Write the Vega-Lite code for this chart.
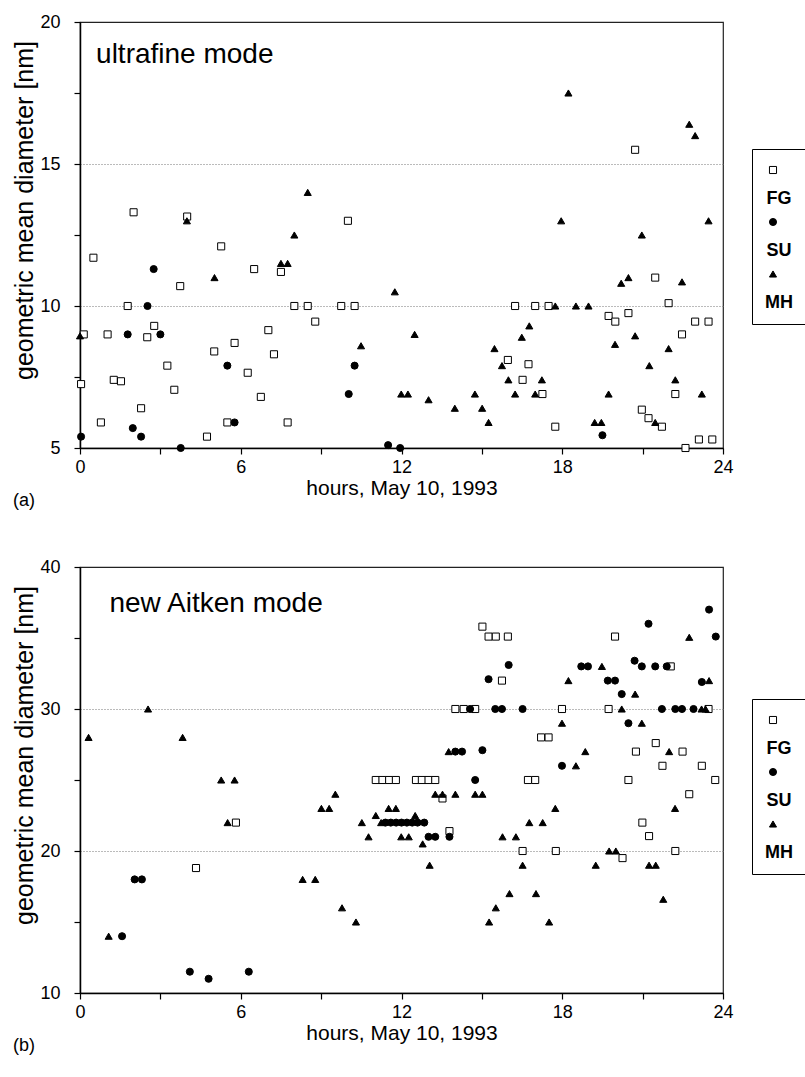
{
  "$schema": "https://vega.github.io/schema/vega-lite/v6.json",
  "background": "white",
  "padding": {"left": 12, "top": 12, "right": 0, "bottom": 0},
  "config": {
    "font": "Liberation Sans",
    "view": {"stroke": "#222", "strokeWidth": 1.2},
    "axis": {
      "domainColor": "black", "domainWidth": 1.5, "tickColor": "black", "tickWidth": 1.2, "tickSize": 6,
      "labelFontSize": 18, "labelColor": "black", "labelFlush": false, "labelOverlap": false,
      "titleFontWeight": "normal", "titleColor": "black",
      "gridColor": "#777", "gridDash": [1, 2], "gridWidth": 1
    },
    "axisX": {"labelPadding": 4, "titleFontSize": 21, "titlePadding": 1},
    "axisY": {"labelPadding": 14, "titleFontSize": 25, "titlePadding": 2, "titleY": 188},
    "title": {"fontSize": 18, "fontWeight": "normal", "color": "black"}
  },
  "datasets": {
    "ultra": [
      {"t": 0.5, "v": 11.7, "s": "FG"}, {"t": 2.0, "v": 13.3, "s": "FG"}, {"t": 4.0, "v": 13.15, "s": "FG"},
      {"t": 5.27, "v": 12.1, "s": "FG"}, {"t": 3.74, "v": 10.7, "s": "FG"}, {"t": 6.5, "v": 11.3, "s": "FG"},
      {"t": 7.5, "v": 11.2, "s": "FG"}, {"t": 1.78, "v": 10.0, "s": "FG"}, {"t": 7.03, "v": 9.15, "s": "FG"},
      {"t": 2.77, "v": 9.3, "s": "FG"}, {"t": 0.14, "v": 9.0, "s": "FG"}, {"t": 1.03, "v": 9.0, "s": "FG"},
      {"t": 2.51, "v": 8.9, "s": "FG"}, {"t": 5.77, "v": 8.7, "s": "FG"}, {"t": 5.01, "v": 8.4, "s": "FG"},
      {"t": 7.24, "v": 8.3, "s": "FG"}, {"t": 3.26, "v": 7.9, "s": "FG"}, {"t": 6.26, "v": 7.65, "s": "FG"},
      {"t": 1.26, "v": 7.4, "s": "FG"}, {"t": 1.53, "v": 7.35, "s": "FG"}, {"t": 0.04, "v": 7.25, "s": "FG"},
      {"t": 3.52, "v": 7.05, "s": "FG"}, {"t": 6.75, "v": 6.8, "s": "FG"}, {"t": 2.28, "v": 6.4, "s": "FG"},
      {"t": 0.78, "v": 5.9, "s": "FG"}, {"t": 5.5, "v": 5.9, "s": "FG"}, {"t": 7.75, "v": 5.9, "s": "FG"},
      {"t": 4.74, "v": 5.4, "s": "FG"}, {"t": 10.0, "v": 13.0, "s": "FG"}, {"t": 8.0, "v": 10.0, "s": "FG"},
      {"t": 8.5, "v": 10.0, "s": "FG"}, {"t": 9.75, "v": 10.0, "s": "FG"}, {"t": 10.25, "v": 10.0, "s": "FG"},
      {"t": 8.78, "v": 9.45, "s": "FG"}, {"t": 15.97, "v": 8.1, "s": "FG"}, {"t": 20.72, "v": 15.5, "s": "FG"},
      {"t": 21.47, "v": 11.0, "s": "FG"}, {"t": 21.97, "v": 10.1, "s": "FG"}, {"t": 16.24, "v": 10.0, "s": "FG"},
      {"t": 16.99, "v": 10.0, "s": "FG"}, {"t": 17.49, "v": 10.0, "s": "FG"}, {"t": 19.73, "v": 9.65, "s": "FG"},
      {"t": 19.98, "v": 9.45, "s": "FG"}, {"t": 20.47, "v": 9.75, "s": "FG"}, {"t": 22.96, "v": 9.45, "s": "FG"},
      {"t": 23.46, "v": 9.45, "s": "FG"}, {"t": 22.47, "v": 9.0, "s": "FG"}, {"t": 16.74, "v": 7.95, "s": "FG"},
      {"t": 16.52, "v": 7.4, "s": "FG"}, {"t": 17.26, "v": 6.9, "s": "FG"}, {"t": 22.22, "v": 6.9, "s": "FG"},
      {"t": 20.97, "v": 6.35, "s": "FG"}, {"t": 21.22, "v": 6.05, "s": "FG"}, {"t": 21.72, "v": 5.75, "s": "FG"},
      {"t": 17.74, "v": 5.75, "s": "FG"}, {"t": 22.6, "v": 5.0, "s": "FG"}, {"t": 23.1, "v": 5.3, "s": "FG"},
      {"t": 23.6, "v": 5.3, "s": "FG"},
      {"t": 2.75, "v": 11.3, "s": "SU"}, {"t": 2.52, "v": 10.0, "s": "SU"}, {"t": 1.78, "v": 9.0, "s": "SU"},
      {"t": 3.0, "v": 9.0, "s": "SU"}, {"t": 5.5, "v": 7.9, "s": "SU"}, {"t": 5.77, "v": 5.9, "s": "SU"},
      {"t": 1.97, "v": 5.7, "s": "SU"}, {"t": 2.28, "v": 5.4, "s": "SU"}, {"t": 0.04, "v": 5.4, "s": "SU"},
      {"t": 3.76, "v": 5.0, "s": "SU"}, {"t": 11.5, "v": 5.1, "s": "SU"}, {"t": 11.95, "v": 5.0, "s": "SU"},
      {"t": 10.25, "v": 7.9, "s": "SU"}, {"t": 10.03, "v": 6.9, "s": "SU"}, {"t": 19.5, "v": 5.45, "s": "SU"},
      {"t": 0.0, "v": 8.95, "s": "MH"}, {"t": 3.99, "v": 13.0, "s": "MH"}, {"t": 5.02, "v": 11.0, "s": "MH"},
      {"t": 7.5, "v": 11.5, "s": "MH"}, {"t": 7.75, "v": 11.5, "s": "MH"}, {"t": 8.5, "v": 14.0, "s": "MH"},
      {"t": 8.0, "v": 12.5, "s": "MH"}, {"t": 11.75, "v": 10.5, "s": "MH"}, {"t": 12.49, "v": 9.0, "s": "MH"},
      {"t": 10.49, "v": 8.6, "s": "MH"}, {"t": 15.47, "v": 8.5, "s": "MH"}, {"t": 15.75, "v": 7.9, "s": "MH"},
      {"t": 15.99, "v": 7.4, "s": "MH"}, {"t": 11.99, "v": 6.9, "s": "MH"}, {"t": 12.24, "v": 6.9, "s": "MH"},
      {"t": 13.01, "v": 6.7, "s": "MH"}, {"t": 14.74, "v": 6.9, "s": "MH"}, {"t": 13.99, "v": 6.4, "s": "MH"},
      {"t": 15.01, "v": 6.4, "s": "MH"}, {"t": 15.25, "v": 5.9, "s": "MH"}, {"t": 18.23, "v": 17.5, "s": "MH"},
      {"t": 22.74, "v": 16.4, "s": "MH"}, {"t": 22.96, "v": 16.0, "s": "MH"}, {"t": 17.96, "v": 13.0, "s": "MH"},
      {"t": 23.46, "v": 13.0, "s": "MH"}, {"t": 20.97, "v": 12.5, "s": "MH"}, {"t": 20.47, "v": 11.0, "s": "MH"},
      {"t": 20.2, "v": 10.8, "s": "MH"}, {"t": 22.47, "v": 10.85, "s": "MH"}, {"t": 17.74, "v": 10.0, "s": "MH"},
      {"t": 18.51, "v": 10.0, "s": "MH"}, {"t": 18.98, "v": 10.0, "s": "MH"}, {"t": 16.77, "v": 9.3, "s": "MH"},
      {"t": 16.49, "v": 8.9, "s": "MH"}, {"t": 19.97, "v": 8.65, "s": "MH"}, {"t": 20.72, "v": 8.95, "s": "MH"},
      {"t": 21.97, "v": 8.5, "s": "MH"}, {"t": 21.25, "v": 7.9, "s": "MH"}, {"t": 17.24, "v": 7.4, "s": "MH"},
      {"t": 22.22, "v": 7.4, "s": "MH"}, {"t": 16.24, "v": 6.9, "s": "MH"}, {"t": 16.99, "v": 6.9, "s": "MH"},
      {"t": 19.73, "v": 6.9, "s": "MH"}, {"t": 23.21, "v": 6.9, "s": "MH"}, {"t": 19.21, "v": 5.9, "s": "MH"},
      {"t": 19.46, "v": 5.9, "s": "MH"}, {"t": 21.47, "v": 5.9, "s": "MH"}
    ],
    "aitken": [
      {"t": 5.82, "v": 22.0, "s": "FG"}, {"t": 4.33, "v": 18.8, "s": "FG"}, {"t": 15.02, "v": 35.8, "s": "FG"},
      {"t": 15.25, "v": 35.1, "s": "FG"}, {"t": 15.52, "v": 35.1, "s": "FG"}, {"t": 15.97, "v": 35.1, "s": "FG"},
      {"t": 15.75, "v": 32.0, "s": "FG"}, {"t": 14.01, "v": 30.0, "s": "FG"}, {"t": 14.32, "v": 30.0, "s": "FG"},
      {"t": 14.75, "v": 30.0, "s": "FG"}, {"t": 11.04, "v": 25.0, "s": "FG"}, {"t": 11.29, "v": 25.0, "s": "FG"},
      {"t": 11.54, "v": 25.0, "s": "FG"}, {"t": 11.79, "v": 25.0, "s": "FG"}, {"t": 12.54, "v": 25.0, "s": "FG"},
      {"t": 12.76, "v": 25.0, "s": "FG"}, {"t": 13.01, "v": 25.0, "s": "FG"}, {"t": 13.26, "v": 25.0, "s": "FG"},
      {"t": 13.53, "v": 23.7, "s": "FG"}, {"t": 13.79, "v": 21.4, "s": "FG"}, {"t": 19.97, "v": 35.1, "s": "FG"},
      {"t": 17.99, "v": 30.0, "s": "FG"}, {"t": 19.73, "v": 30.0, "s": "FG"}, {"t": 23.46, "v": 30.0, "s": "FG"},
      {"t": 17.21, "v": 28.0, "s": "FG"}, {"t": 17.49, "v": 28.0, "s": "FG"}, {"t": 21.49, "v": 27.6, "s": "FG"},
      {"t": 20.75, "v": 27.0, "s": "FG"}, {"t": 22.49, "v": 27.0, "s": "FG"}, {"t": 21.74, "v": 26.0, "s": "FG"},
      {"t": 23.21, "v": 26.0, "s": "FG"}, {"t": 16.72, "v": 25.0, "s": "FG"}, {"t": 16.99, "v": 25.0, "s": "FG"},
      {"t": 20.47, "v": 25.0, "s": "FG"}, {"t": 23.71, "v": 25.0, "s": "FG"}, {"t": 22.74, "v": 24.0, "s": "FG"},
      {"t": 20.99, "v": 22.0, "s": "FG"}, {"t": 21.24, "v": 21.05, "s": "FG"}, {"t": 16.52, "v": 20.0, "s": "FG"},
      {"t": 17.76, "v": 20.0, "s": "FG"}, {"t": 20.25, "v": 19.5, "s": "FG"}, {"t": 22.22, "v": 20.0, "s": "FG"},
      {"t": 22.05, "v": 33.0, "s": "FG"},
      {"t": 1.57, "v": 14.0, "s": "SU"}, {"t": 2.04, "v": 18.0, "s": "SU"}, {"t": 2.31, "v": 18.0, "s": "SU"},
      {"t": 4.1, "v": 11.5, "s": "SU"}, {"t": 4.8, "v": 11.0, "s": "SU"}, {"t": 6.3, "v": 11.5, "s": "SU"},
      {"t": 16.0, "v": 33.1, "s": "SU"}, {"t": 15.25, "v": 32.1, "s": "SU"}, {"t": 15.5, "v": 30.0, "s": "SU"},
      {"t": 15.75, "v": 30.0, "s": "SU"}, {"t": 14.56, "v": 30.0, "s": "SU"}, {"t": 14.01, "v": 27.0, "s": "SU"},
      {"t": 14.26, "v": 27.0, "s": "SU"}, {"t": 15.02, "v": 27.1, "s": "SU"}, {"t": 14.75, "v": 25.0, "s": "SU"},
      {"t": 13.01, "v": 21.0, "s": "SU"}, {"t": 13.26, "v": 21.0, "s": "SU"}, {"t": 13.79, "v": 21.0, "s": "SU"},
      {"t": 11.4, "v": 22.0, "s": "SU"}, {"t": 11.6, "v": 22.0, "s": "SU"}, {"t": 11.8, "v": 22.0, "s": "SU"},
      {"t": 12.0, "v": 22.0, "s": "SU"}, {"t": 12.2, "v": 22.0, "s": "SU"}, {"t": 12.4, "v": 22.0, "s": "SU"},
      {"t": 12.6, "v": 22.0, "s": "SU"}, {"t": 12.85, "v": 22.0, "s": "SU"}, {"t": 23.48, "v": 37.0, "s": "SU"},
      {"t": 21.22, "v": 36.0, "s": "SU"}, {"t": 23.73, "v": 35.1, "s": "SU"}, {"t": 18.71, "v": 33.0, "s": "SU"},
      {"t": 18.96, "v": 33.0, "s": "SU"}, {"t": 20.7, "v": 33.4, "s": "SU"}, {"t": 20.97, "v": 33.0, "s": "SU"},
      {"t": 21.47, "v": 33.0, "s": "SU"}, {"t": 21.9, "v": 33.0, "s": "SU"}, {"t": 19.7, "v": 32.0, "s": "SU"},
      {"t": 19.97, "v": 32.0, "s": "SU"}, {"t": 23.21, "v": 31.9, "s": "SU"}, {"t": 20.22, "v": 31.05, "s": "SU"},
      {"t": 16.52, "v": 30.0, "s": "SU"}, {"t": 21.72, "v": 30.0, "s": "SU"}, {"t": 22.22, "v": 30.0, "s": "SU"},
      {"t": 22.47, "v": 30.0, "s": "SU"}, {"t": 22.9, "v": 30.0, "s": "SU"}, {"t": 20.47, "v": 29.0, "s": "SU"},
      {"t": 17.99, "v": 26.0, "s": "SU"},
      {"t": 0.32, "v": 28.0, "s": "MH"}, {"t": 2.54, "v": 30.0, "s": "MH"}, {"t": 3.83, "v": 28.0, "s": "MH"},
      {"t": 5.27, "v": 25.0, "s": "MH"}, {"t": 5.77, "v": 25.0, "s": "MH"}, {"t": 5.51, "v": 22.0, "s": "MH"},
      {"t": 1.07, "v": 14.0, "s": "MH"}, {"t": 9.53, "v": 24.0, "s": "MH"}, {"t": 9.01, "v": 23.0, "s": "MH"},
      {"t": 9.3, "v": 23.0, "s": "MH"}, {"t": 11.04, "v": 22.5, "s": "MH"}, {"t": 10.52, "v": 22.0, "s": "MH"},
      {"t": 11.24, "v": 22.0, "s": "MH"}, {"t": 11.52, "v": 23.0, "s": "MH"}, {"t": 11.79, "v": 23.0, "s": "MH"},
      {"t": 12.51, "v": 22.5, "s": "MH"}, {"t": 10.77, "v": 21.0, "s": "MH"}, {"t": 11.99, "v": 21.0, "s": "MH"},
      {"t": 12.27, "v": 21.0, "s": "MH"}, {"t": 12.79, "v": 20.5, "s": "MH"}, {"t": 13.26, "v": 24.0, "s": "MH"},
      {"t": 13.53, "v": 24.0, "s": "MH"}, {"t": 14.01, "v": 24.0, "s": "MH"}, {"t": 14.75, "v": 24.0, "s": "MH"},
      {"t": 15.02, "v": 24.0, "s": "MH"}, {"t": 15.77, "v": 21.0, "s": "MH"}, {"t": 13.05, "v": 19.0, "s": "MH"},
      {"t": 8.31, "v": 18.0, "s": "MH"}, {"t": 8.78, "v": 18.0, "s": "MH"}, {"t": 16.03, "v": 17.0, "s": "MH"},
      {"t": 15.52, "v": 16.0, "s": "MH"}, {"t": 9.78, "v": 16.0, "s": "MH"}, {"t": 10.3, "v": 15.0, "s": "MH"},
      {"t": 15.27, "v": 15.0, "s": "MH"}, {"t": 13.76, "v": 27.0, "s": "MH"}, {"t": 22.74, "v": 35.05, "s": "MH"},
      {"t": 19.48, "v": 33.0, "s": "MH"}, {"t": 18.23, "v": 32.0, "s": "MH"}, {"t": 23.48, "v": 32.0, "s": "MH"},
      {"t": 20.72, "v": 31.05, "s": "MH"}, {"t": 20.22, "v": 30.0, "s": "MH"}, {"t": 23.2, "v": 30.0, "s": "MH"},
      {"t": 23.35, "v": 30.0, "s": "MH"}, {"t": 17.99, "v": 29.0, "s": "MH"}, {"t": 20.97, "v": 29.0, "s": "MH"},
      {"t": 18.86, "v": 27.0, "s": "MH"}, {"t": 21.99, "v": 27.0, "s": "MH"}, {"t": 18.51, "v": 26.0, "s": "MH"},
      {"t": 17.74, "v": 23.0, "s": "MH"}, {"t": 22.21, "v": 23.0, "s": "MH"}, {"t": 16.77, "v": 22.0, "s": "MH"},
      {"t": 17.27, "v": 22.0, "s": "MH"}, {"t": 16.27, "v": 21.0, "s": "MH"}, {"t": 19.75, "v": 20.0, "s": "MH"},
      {"t": 20.0, "v": 20.0, "s": "MH"}, {"t": 16.52, "v": 19.0, "s": "MH"}, {"t": 19.25, "v": 19.0, "s": "MH"},
      {"t": 21.24, "v": 19.0, "s": "MH"}, {"t": 21.49, "v": 19.0, "s": "MH"}, {"t": 17.02, "v": 17.0, "s": "MH"},
      {"t": 21.77, "v": 16.6, "s": "MH"}, {"t": 17.51, "v": 15.0, "s": "MH"}
    ]
  },
  "resolve": {"scale": {"shape": "independent", "fill": "independent", "stroke": "independent"}, "legend": {"shape": "independent", "fill": "independent", "stroke": "independent"}},
  "spacing": 46,
  "vconcat": [
    {
      "width": 643, "height": 426,
      "title": {"text": "(a)", "orient": "bottom", "anchor": "start", "frame": "bounds", "offset": -6},
      "layer": [
        {
          "data": {"name": "ultra"},
          "mark": {"type": "point", "filled": true, "size": 50, "strokeWidth": 1, "opacity": 1},
          "encoding": {
            "x": {"field": "t", "type": "quantitative", "scale": {"domain": [0, 24], "nice": false},
              "axis": {"title": "hours, May 10, 1993", "values": [0, 3, 6, 9, 12, 15, 18, 21, 24], "labelExpr": "datum.value % 6 === 0 ? datum.label : ''", "grid": false}},
            "y": {"field": "v", "type": "quantitative", "scale": {"domain": [5, 20], "nice": false},
              "axis": {"title": "geometric mean diameter [nm]", "values": [5, 7.5, 10, 12.5, 15, 17.5, 20], "labelExpr": "datum.value % 5 === 0 ? datum.label : ''", "grid": true,
                "gridOpacity": {"condition": {"test": "datum.value === 10 || datum.value === 15", "value": 1}, "value": 0}}},
            "shape": {"field": "s", "type": "nominal", "scale": {"domain": ["FG", "SU", "MH"], "range": ["square", "circle", "triangle-up"]},
              "legend": {"title": null, "orient": "none", "legendX": 672, "legendY": 127, "strokeColor": "black", "fillColor": "white", "padding": 12,
                "labelFontSize": 18, "labelFontWeight": "bold", "labelColor": "black", "labelAlign": "center", "labelBaseline": "top", "labelOffset": -3,
                "labelExpr": "['', datum.label]", "symbolSize": 50, "symbolStrokeWidth": 1, "rowPadding": 5}},
            "fill": {"field": "s", "type": "nominal", "scale": {"domain": ["FG", "SU", "MH"], "range": ["white", "black", "black"]},
              "legend": {"title": null, "orient": "none", "legendX": 672, "legendY": 127, "strokeColor": "black", "fillColor": "white", "padding": 12,
                "labelFontSize": 18, "labelFontWeight": "bold", "labelColor": "black", "labelAlign": "center", "labelBaseline": "top", "labelOffset": -3,
                "labelExpr": "['', datum.label]", "symbolSize": 50, "symbolStrokeWidth": 1, "rowPadding": 5}},
            "stroke": {"field": "s", "type": "nominal", "scale": {"domain": ["FG", "SU", "MH"], "range": ["black", "black", "black"]},
              "legend": {"title": null, "orient": "none", "legendX": 672, "legendY": 127, "strokeColor": "black", "fillColor": "white", "padding": 12,
                "labelFontSize": 18, "labelFontWeight": "bold", "labelColor": "black", "labelAlign": "center", "labelBaseline": "top", "labelOffset": -3,
                "labelExpr": "['', datum.label]", "symbolSize": 50, "symbolStrokeWidth": 1, "rowPadding": 5}}
          }
        },
        {
          "data": {"values": [{"label": "ultrafine mode"}]},
          "mark": {"type": "text", "align": "left", "baseline": "alphabetic", "fontSize": 28, "color": "black"},
          "encoding": {"x": {"datum": 0.6, "type": "quantitative"}, "y": {"datum": 18.55, "type": "quantitative"}, "text": {"field": "label", "type": "nominal"}}
        }
      ]
    },
    {
      "width": 643, "height": 426,
      "title": {"text": "(b)", "orient": "bottom", "anchor": "start", "frame": "bounds", "offset": -6},
      "layer": [
        {
          "data": {"name": "aitken"},
          "mark": {"type": "point", "filled": true, "size": 50, "strokeWidth": 1, "opacity": 1},
          "encoding": {
            "x": {"field": "t", "type": "quantitative", "scale": {"domain": [0, 24], "nice": false},
              "axis": {"title": "hours, May 10, 1993", "values": [0, 3, 6, 9, 12, 15, 18, 21, 24], "labelExpr": "datum.value % 6 === 0 ? datum.label : ''", "grid": false}},
            "y": {"field": "v", "type": "quantitative", "scale": {"domain": [10, 40], "nice": false},
              "axis": {"title": "geometric mean diameter [nm]", "values": [10, 15, 20, 25, 30, 35, 40], "labelExpr": "datum.value % 10 === 0 ? datum.label : ''", "grid": true,
                "gridOpacity": {"condition": {"test": "datum.value === 20 || datum.value === 30", "value": 1}, "value": 0}}},
            "shape": {"field": "s", "type": "nominal", "scale": {"domain": ["FG", "SU", "MH"], "range": ["square", "circle", "triangle-up"]},
              "legend": {"title": null, "orient": "none", "legendX": 672, "legendY": 132, "strokeColor": "black", "fillColor": "white", "padding": 12,
                "labelFontSize": 18, "labelFontWeight": "bold", "labelColor": "black", "labelAlign": "center", "labelBaseline": "top", "labelOffset": -3,
                "labelExpr": "['', datum.label]", "symbolSize": 50, "symbolStrokeWidth": 1, "rowPadding": 5}},
            "fill": {"field": "s", "type": "nominal", "scale": {"domain": ["FG", "SU", "MH"], "range": ["white", "black", "black"]},
              "legend": {"title": null, "orient": "none", "legendX": 672, "legendY": 132, "strokeColor": "black", "fillColor": "white", "padding": 12,
                "labelFontSize": 18, "labelFontWeight": "bold", "labelColor": "black", "labelAlign": "center", "labelBaseline": "top", "labelOffset": -3,
                "labelExpr": "['', datum.label]", "symbolSize": 50, "symbolStrokeWidth": 1, "rowPadding": 5}},
            "stroke": {"field": "s", "type": "nominal", "scale": {"domain": ["FG", "SU", "MH"], "range": ["black", "black", "black"]},
              "legend": {"title": null, "orient": "none", "legendX": 672, "legendY": 132, "strokeColor": "black", "fillColor": "white", "padding": 12,
                "labelFontSize": 18, "labelFontWeight": "bold", "labelColor": "black", "labelAlign": "center", "labelBaseline": "top", "labelOffset": -3,
                "labelExpr": "['', datum.label]", "symbolSize": 50, "symbolStrokeWidth": 1, "rowPadding": 5}}
          }
        },
        {
          "data": {"values": [{"label": "new Aitken mode"}]},
          "mark": {"type": "text", "align": "left", "baseline": "alphabetic", "fontSize": 28, "color": "black"},
          "encoding": {"x": {"datum": 1.1, "type": "quantitative"}, "y": {"datum": 36.8, "type": "quantitative"}, "text": {"field": "label", "type": "nominal"}}
        }
      ]
    }
  ]
}
